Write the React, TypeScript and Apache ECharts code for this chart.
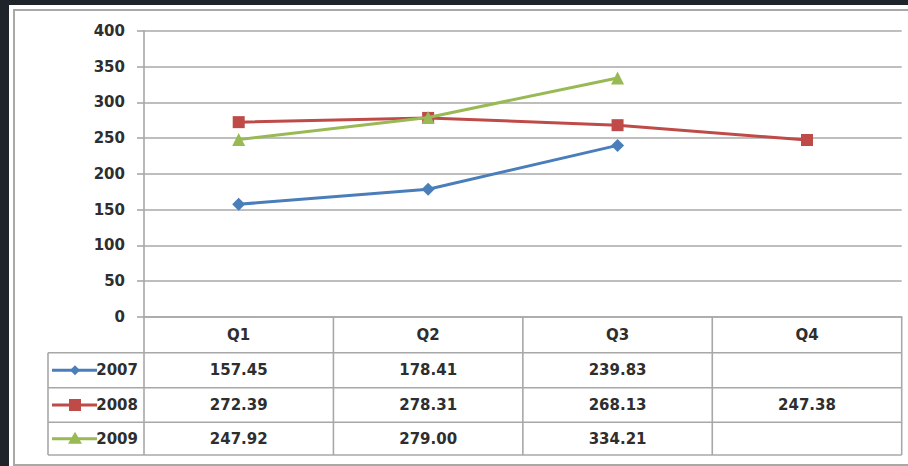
import React, { useEffect, useRef } from "react";
import * as echarts from "echarts";

const categories = ["Q1", "Q2", "Q3", "Q4"];
const seriesNames = ["2007", "2008", "2009"];
const values2007: (number | null)[] = [157.45, 178.41, 239.83, null];
const values2008: (number | null)[] = [272.39, 278.31, 268.13, 247.38];
const values2009: (number | null)[] = [247.92, 279.0, 334.21, null];
const seriesValues = [values2007, values2008, values2009];
const seriesColors = ["#4a7ebb", "#be4b48", "#98b954"];
const seriesSymbols = ["diamond", "rect", "triangle"];
const seriesSymbolSizes = [13, 12, 13];
const yMin = 0;
const yMax = 400;
const yStep = 50;

// chart div offset in page
const OX = 9;
const OY = 5;
const W = 899;
const H = 461;

const gridLeft = 144 - OX;
const gridRight = 901.7 - OX;
const gridTop = 31 - OY;
const gridBottom = 316.7 - OY;

const rowLines = [352.7, 387.7, 422.3, 455].map((v) => v - OY);
const tableLeft = 48 - OX;
const GRAY = "#a8a8a8";
const TXT = "#2e2e2e";
const FONT = "DejaVu Sans";
const FS = 15;

export default function App() {
  const ref = useRef<HTMLDivElement>(null);
  useEffect(() => {
    if (!ref.current) return;
    const chart = echarts.init(ref.current, undefined, { renderer: "svg" });
    const n = categories.length;
    const colW = (gridRight - gridLeft) / n;
    const graphic: any[] = [];
    // outer frame
    graphic.push({
      type: "rect",
      silent: true,
      shape: { x: 14 - OX, y: 10 - OY, width: 920, height: 455 },
      style: { fill: "none", stroke: GRAY, lineWidth: 2 },
    });
    // vertical lines of table
    for (let i = 0; i <= n; i++) {
      const x = gridLeft + i * colW;
      graphic.push({
        type: "line",
        silent: true,
        shape: { x1: x, y1: gridBottom, x2: x, y2: rowLines[rowLines.length - 1] },
        style: { stroke: GRAY, lineWidth: 1.6 },
      });
    }
    // left border of legend column
    graphic.push({
      type: "line",
      silent: true,
      shape: { x1: tableLeft, y1: rowLines[0], x2: tableLeft, y2: rowLines[rowLines.length - 1] },
      style: { stroke: GRAY, lineWidth: 1.6 },
    });
    // horizontal lines
    rowLines.forEach((y) => {
      graphic.push({
        type: "line",
        silent: true,
        shape: { x1: tableLeft, y1: y, x2: gridRight, y2: y },
        style: { stroke: GRAY, lineWidth: 1.6 },
      });
    });
    // header labels
    const headerY = (gridBottom + rowLines[0]) / 2;
    categories.forEach((c, i) => {
      graphic.push({
        type: "text",
        silent: true,
        x: gridLeft + (i + 0.5) * colW,
        y: headerY,
        style: {
          text: c,
          fill: TXT,
          font: `bold ${FS}px "${FONT}"`,
          align: "center",
          verticalAlign: "middle",
        },
      });
    });
    // rows
    seriesNames.forEach((name, r) => {
      const cy = (rowLines[r] + rowLines[r + 1]) / 2;
      const color = seriesColors[r];
      // key line
      graphic.push({
        type: "line",
        silent: true,
        shape: { x1: 52 - OX, y1: cy, x2: 97 - OX, y2: cy },
        style: { stroke: color, lineWidth: 3 },
      });
      const mx = 75 - OX;
      if (seriesSymbols[r] === "diamond") {
        graphic.push({
          type: "polygon",
          silent: true,
          shape: { points: [[mx, cy - 5], [mx + 5, cy], [mx, cy + 5], [mx - 5, cy]] },
          style: { fill: color },
        });
      } else if (seriesSymbols[r] === "rect") {
        graphic.push({
          type: "rect",
          silent: true,
          shape: { x: mx - 6, y: cy - 6, width: 12, height: 12 },
          style: { fill: color },
        });
      } else {
        graphic.push({
          type: "polygon",
          silent: true,
          shape: { points: [[mx, cy - 7], [mx + 7, cy + 5], [mx - 7, cy + 5]] },
          style: { fill: color },
        });
      }
      graphic.push({
        type: "text",
        silent: true,
        x: 138 - OX,
        y: cy,
        style: {
          text: name,
          fill: TXT,
          font: `bold ${FS}px "${FONT}"`,
          align: "right",
          verticalAlign: "middle",
        },
      });
      seriesValues[r].forEach((v, i) => {
        if (v == null) return;
        graphic.push({
          type: "text",
          silent: true,
          x: gridLeft + (i + 0.5) * colW,
          y: cy,
          style: {
            text: v.toFixed(2),
            fill: TXT,
            font: `bold ${FS}px "${FONT}"`,
            align: "center",
            verticalAlign: "middle",
          },
        });
      });
    });

    chart.setOption({
      animation: false,
      backgroundColor: "#ffffff",
      grid: {
        left: gridLeft,
        top: gridTop,
        right: W - gridRight,
        bottom: H - gridBottom,
        containLabel: false,
      },
      xAxis: {
        type: "category",
        data: categories,
        boundaryGap: true,
        axisLine: { show: true, lineStyle: { color: GRAY, width: 1.6 } },
        axisTick: { show: false },
        axisLabel: { show: false },
        splitLine: { show: false },
      },
      yAxis: {
        type: "value",
        min: yMin,
        max: yMax,
        interval: yStep,
        axisLine: { show: true, lineStyle: { color: GRAY, width: 1.6 } },
        axisTick: { show: true, length: 7, lineStyle: { color: GRAY, width: 1.6 } },
        axisLabel: {
          margin: 19,
          color: TXT,
          fontFamily: FONT,
          fontWeight: "bold",
          fontSize: FS,
        },
        splitLine: { show: true, lineStyle: { color: GRAY, width: 1.6 } },
      },
      series: seriesNames.map((name, r) => ({
        name,
        type: "line",
        data: seriesValues[r],
        symbol: seriesSymbols[r],
        symbolSize: seriesSymbolSizes[r],
        showSymbol: true,
        lineStyle: { color: seriesColors[r], width: 3 },
        itemStyle: { color: seriesColors[r] },
        z: 3 + r,
      })),
      graphic,
    });
    return () => chart.dispose();
  }, []);

  return (
    <div
      style={{
        position: "fixed",
        left: 0,
        top: 0,
        width: 908,
        height: 466,
        background: "#1f242a",
        overflow: "hidden",
      }}
    >
      <div
        ref={ref}
        style={{ position: "absolute", left: OX, top: OY, width: W, height: H }}
      />
    </div>
  );
}
